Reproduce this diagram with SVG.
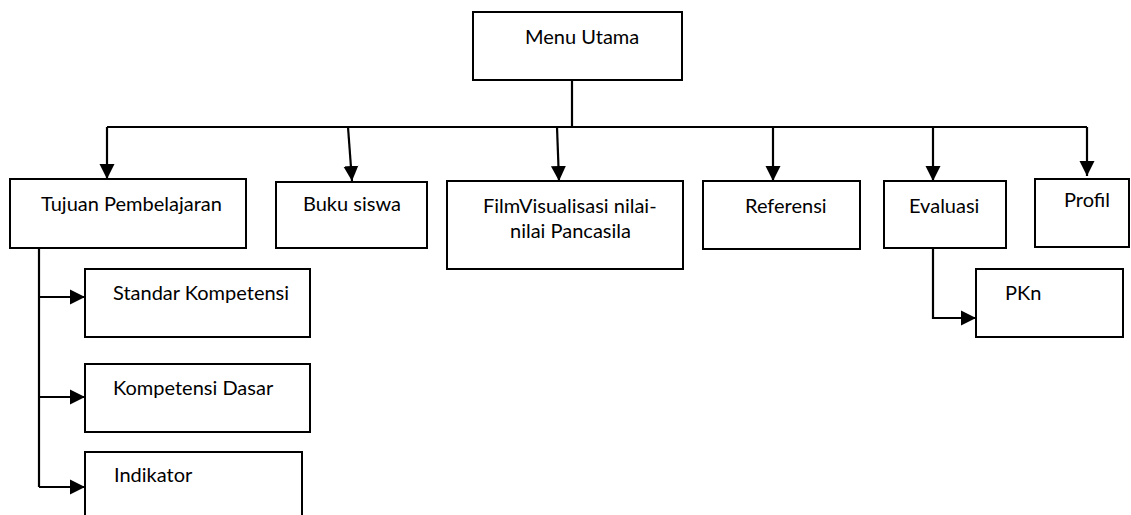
<svg xmlns="http://www.w3.org/2000/svg" width="1131" height="515" viewBox="0 0 1131 515">
<style>
.box{fill:#fff;stroke:#000;stroke-width:2}
.lbl{font-family:Lato,"Liberation Sans",sans-serif;font-size:20px;fill:#000}
.con{fill:none;stroke:#000;stroke-width:2.2}
.arr{marker-end:url(#ah)}
</style>
<defs>
<marker id="ah" markerUnits="userSpaceOnUse" markerWidth="16" markerHeight="16" refX="15" refY="8" orient="auto">
<path d="M0,0.5 L15,8 L0,15.5 Z" fill="#000"/>
</marker>
</defs>
<rect width="1131" height="515" fill="#fff"/>
<g id="connectors">
<path class="con" d="M572,80 V127 M107,127 H1087"/>
<path class="con arr" d="M107,127 V179"/>
<path class="con arr" d="M348,127 L352,181"/>
<path class="con arr" d="M557,127 L559,181"/>
<path class="con arr" d="M773,127 V181"/>
<path class="con arr" d="M933,127 V181"/>
<path class="con arr" d="M1087,127 V176"/>
<path class="con" d="M39,248 V487"/>
<path class="con arr" d="M39,297 H85"/>
<path class="con arr" d="M39,397 H85"/>
<path class="con arr" d="M39,487 H85"/>
<path class="con arr" d="M933,248 V318 H976"/>
</g>
<g id="menu-utama"><rect class="box" x="473" y="12" width="209" height="68"/><text class="lbl" x="525" y="44">Menu Utama</text></g>
<g id="tujuan"><rect class="box" x="10" y="179" width="236" height="69"/><text class="lbl" x="41" y="211">Tujuan Pembelajaran</text></g>
<g id="buku"><rect class="box" x="276" y="182" width="151" height="66"/><text class="lbl" x="303" y="211">Buku siswa</text></g>
<g id="film"><rect class="box" x="447" y="181" width="236" height="88"/><text class="lbl" x="483" y="213">FilmVisualisasi nilai-</text><text class="lbl" x="510" y="238">nilai Pancasila</text></g>
<g id="referensi"><rect class="box" x="703" y="181" width="157" height="68"/><text class="lbl" x="745" y="213">Referensi</text></g>
<g id="evaluasi"><rect class="box" x="884" y="181" width="122" height="67"/><text class="lbl" x="909" y="213">Evaluasi</text></g>
<g id="profil"><rect class="box" x="1035" y="179" width="94" height="68"/><text class="lbl" x="1064" y="207">Profil</text></g>
<g id="standar"><rect class="box" x="85" y="269" width="225" height="68"/><text class="lbl" x="113" y="300">Standar Kompetensi</text></g>
<g id="kompetensi-dasar"><rect class="box" x="85" y="364" width="225" height="68"/><text class="lbl" x="113" y="395">Kompetensi Dasar</text></g>
<g id="indikator"><rect class="box" x="85" y="452" width="217" height="80"/><text class="lbl" x="114" y="482">Indikator</text></g>
<g id="pkn"><rect class="box" x="976" y="269" width="147" height="68"/><text class="lbl" x="1005" y="300">PKn</text></g>
</svg>
